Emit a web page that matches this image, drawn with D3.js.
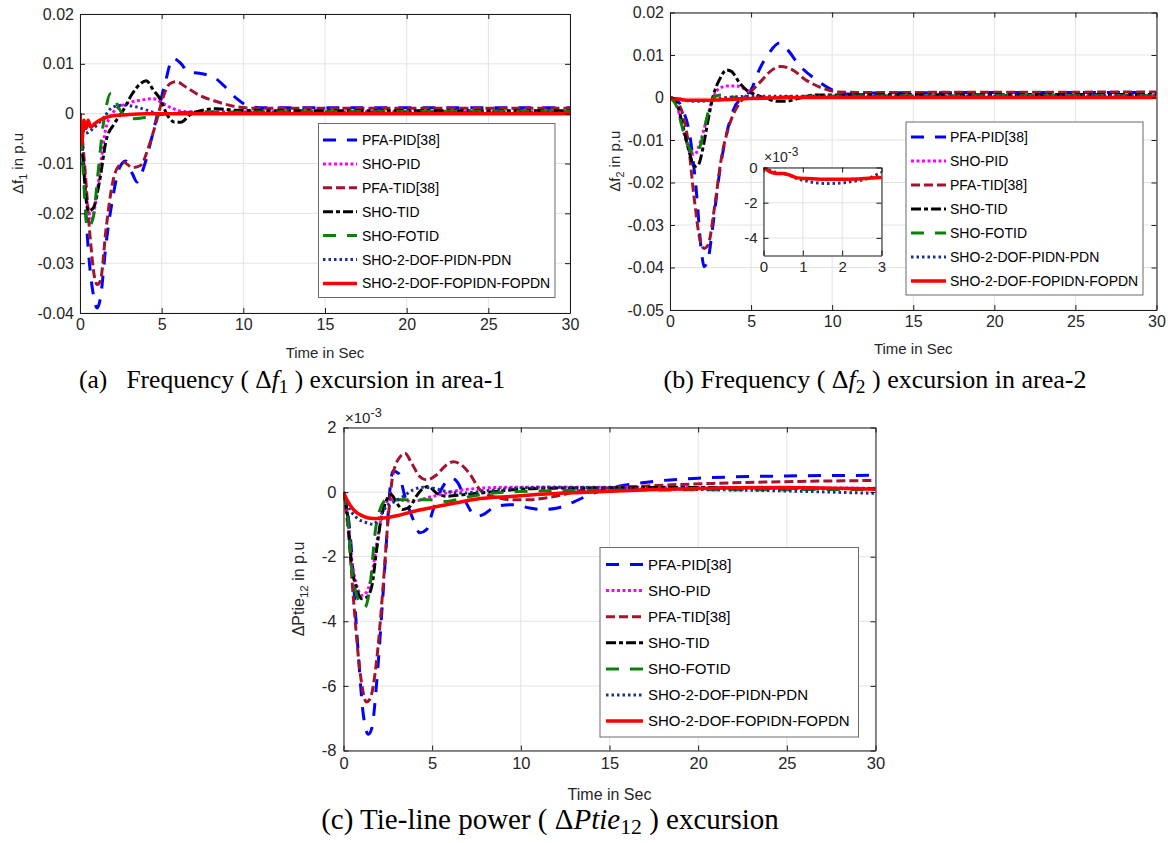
<!DOCTYPE html>
<html>
<head>
<meta charset="utf-8">
<script src="https://cdn.jsdelivr.net/npm/d3@7"></script>
<style>
  body { margin: 0; background: #fff; }
</style>
</head>
<body>
<script>
// ---- data ----
const seriesNames = ["PFA-PID[38]", "SHO-PID", "PFA-TID[38]", "SHO-TID", "SHO-FOTID", "SHO-2-DOF-PIDN-PDN", "SHO-2-DOF-FOPIDN-FOPDN"];

const xTicks = [0, 5, 10, 15, 20, 25, 30];
const f1Ticks = [-0.04, -0.03, -0.02, -0.01, 0, 0.01, 0.02];
const f2Ticks = [-0.05, -0.04, -0.03, -0.02, -0.01, 0, 0.01, 0.02];
const tieTicks = [-8, -6, -4, -2, 0, 2];
const insetXTicks = [0, 1, 2, 3];
const insetYTicks = [-4, -2, 0];

// (a) delta f1 [p.u]  -> [time, value]
const f1PfaPid = [[0,0],[0.2,-0.01],[0.5,-0.027],[0.8,-0.036],[1.05,-0.039],[1.25,-0.037],[1.6,-0.026],[2.0,-0.017],[2.4,-0.011],[2.8,-0.0095],[3.2,-0.012],[3.5,-0.0137],[3.9,-0.0108],[4.4,-0.0047],[4.8,0.0007],[5.2,0.006],[5.7,0.0111],[6.2,0.0100],[6.6,0.0084],[7.3,0.0081],[8.2,0.0073],[9.0,0.005],[9.6,0.003],[10.2,0.0017],[11,0.0012],[13,0.0012],[30,0.0012]];
const f1ShoPid = [[0,0],[0.2,-0.008],[0.45,-0.018],[0.72,-0.021],[0.95,-0.018],[1.2,-0.012],[1.6,-0.0027],[2.15,0.0007],[2.85,0.002],[3.7,0.0027],[4.5,0.003],[5.1,0.002],[5.7,0.001],[6.5,0.0004],[8,0.0004],[30,0.0004]];
const f1PfaTid = [[0,0],[0.3,-0.011],[0.6,-0.024],[0.9,-0.033],[1.05,-0.0343],[1.25,-0.0335],[1.6,-0.023],[2.0,-0.0138],[2.3,-0.0108],[2.7,-0.0098],[3.2,-0.0108],[3.7,-0.0104],[4.2,-0.0067],[4.7,-0.0013],[5.1,0.0034],[5.5,0.006],[5.9,0.0064],[6.5,0.0053],[7.3,0.0037],[8.4,0.0024],[9.4,0.0015],[10.6,0.0011],[30,0.0011]];
const f1ShoTid = [[0,0],[0.2,-0.01],[0.5,-0.0195],[0.8,-0.019],[1.2,-0.0135],[1.6,-0.0054],[2.1,-0.002],[2.65,0.0007],[3.2,0.004],[3.7,0.006],[4.05,0.0066],[4.5,0.0047],[4.95,0.0027],[5.3,0.0],[5.8,-0.0017],[6.2,-0.0017],[6.7,-0.0003],[7.5,0.0007],[8.4,0.001],[9.4,0.0007],[12,0.0006],[30,0.0006]];
const f1ShoFotid = [[0,0],[0.2,-0.012],[0.45,-0.0229],[0.8,-0.021],[1.1,-0.012],[1.4,-0.0027],[1.6,0.0013],[1.85,0.004],[2.05,0.0037],[2.35,0.0013],[2.7,-0.0003],[3.3,-0.001],[4.1,-0.0007],[4.9,-0.0002],[7,0.0003],[30,0.0005]];
const f1Pidn = [[0,0],[0.3,-0.004],[0.8,-0.003],[1.4,-0.001],[2.0,0.0013],[2.65,0.0017],[3.25,0.0015],[4.1,0.0007],[4.9,0.0],[7,0.0001],[30,0.0002]];
const f1Fopidn = [[0,0],[0.1,-0.006],[0.25,-0.0013],[0.37,-0.003],[0.5,-0.0013],[0.65,-0.0027],[0.9,-0.002],[1.2,-0.0013],[1.85,-0.0005],[2.85,-0.0002],[4,0],[30,0]];

// (b) delta f2 [p.u]
const f2PfaPid = [[0,0],[0.4,-0.0005],[0.8,-0.003],[1.2,-0.0084],[1.6,-0.021],[1.95,-0.0366],[2.1,-0.0398],[2.35,-0.038],[2.65,-0.030],[3.05,-0.0178],[3.5,-0.0084],[3.9,-0.003],[4.5,0.0002],[5.0,0.0018],[5.5,0.0065],[6.1,0.0104],[6.75,0.0128],[7.25,0.0112],[7.95,0.0077],[9.0,0.0042],[10,0.0018],[11,0.0008],[13,0.0011],[30,0.0012]];
const f2ShoPid = [[0,0],[0.4,-0.0017],[0.8,-0.0076],[1.2,-0.0123],[1.5,-0.0135],[1.85,-0.0107],[2.25,-0.0053],[2.65,-0.0002],[3.05,0.0022],[3.55,0.0027],[4.1,0.0027],[4.7,0.0018],[5.3,0.0006],[5.9,-0.0002],[7,0.0001],[30,0.0004]];
const f2PfaTid = [[0,0],[0.6,-0.002],[1.1,-0.010],[1.5,-0.024],[1.85,-0.0335],[2.1,-0.0355],[2.35,-0.0347],[2.75,-0.0257],[3.15,-0.0147],[3.7,-0.006],[4.3,-0.0013],[5.0,0.0014],[5.7,0.0042],[6.3,0.0065],[6.85,0.0073],[7.55,0.0065],[8.35,0.0042],[9.4,0.0022],[10.4,0.0013],[12,0.0012],[30,0.0013]];
const f2ShoTid = [[0,0],[0.4,-0.0013],[0.8,-0.0068],[1.2,-0.013],[1.5,-0.0162],[1.75,-0.0158],[2.05,-0.0115],[2.35,-0.0053],[2.65,0.0002],[3.05,0.0042],[3.5,0.0065],[3.8,0.0061],[4.3,0.0034],[4.7,0.0018],[5.3,0.0006],[5.9,-0.0002],[6.6,-0.0009],[7.15,-0.0009],[7.95,-0.0002],[9,0.0006],[30,0.0007]];
const f2ShoFotid = [[0,0],[0.4,-0.002],[0.8,-0.0076],[1.2,-0.012],[1.55,-0.0135],[1.85,-0.0115],[2.15,-0.0068],[2.45,-0.002],[2.75,0.0002],[3.25,0.0006],[4.5,-0.0003],[6,-0.0002],[8,0.0003],[30,0.0005]];
const f2Pidn = [[0,0],[0.26,-0.00025],[0.43,-0.00034],[0.6,-0.0004],[0.85,-0.00063],[1.2,-0.00082],[1.62,-0.00091],[1.97,-0.00088],[2.3,-0.00078],[2.65,-0.00063],[3.0,-0.00029],[3.5,0.0],[4.2,0.0002],[6,0.0003],[30,0.0004]];
const f2Fopidn = [[0,0],[0.17,-0.00025],[0.34,-0.00034],[0.5,-0.00034],[0.68,-0.00044],[0.85,-0.00059],[1.1,-0.00063],[1.54,-0.00067],[1.97,-0.00067],[2.4,-0.00065],[2.74,-0.00059],[3.0,-0.00057],[4,-0.0004],[6,-0.0001],[9,0],[30,0]];

// (c) delta Ptie12 [x 10^-3 p.u]
const tiePfaPid = [[0,0],[0.37,-1.26],[0.75,-4.34],[1.12,-6.9],[1.4,-7.5],[1.6,-7.3],[1.87,-5.9],[2.15,-3.8],[2.43,-1.47],[2.6,-0.03],[2.8,0.65],[3.1,0.58],[3.46,-0.13],[3.93,-0.85],[4.3,-1.26],[4.68,-1.16],[5.06,-0.54],[5.6,0.17],[6.1,0.43],[6.46,0.28],[6.93,-0.34],[7.5,-0.75],[7.87,-0.7],[8.6,-0.44],[9.55,-0.39],[10.5,-0.49],[11.2,-0.54],[12,-0.5],[13,-0.3],[14,-0.05],[15,0.12],[17,0.3],[20,0.43],[25,0.5],[30,0.52]];
const tieShoPid = [[0,0],[0.19,-0.54],[0.47,-2.1],[0.75,-2.9],[1.03,-3.2],[1.3,-3.1],[1.68,-2.3],[1.97,-1.26],[2.25,-0.54],[2.62,-0.24],[3.18,-0.24],[3.93,-0.29],[4.68,-0.18],[5.43,-0.08],[6.18,0.02],[7.7,0.12],[9.55,0.15],[15,0.15],[30,0.12]];
const tiePfaTid = [[0,0],[0.28,-1.26],[0.56,-3.3],[0.94,-5.6],[1.3,-6.5],[1.5,-6.4],[1.87,-5.2],[2.25,-2.8],[2.53,-0.75],[2.8,0.58],[3.2,1.1],[3.46,1.2],[3.84,0.9],[4.3,0.48],[4.68,0.38],[5.24,0.53],[5.8,0.84],[6.2,0.94],[6.65,0.84],[7.1,0.58],[7.7,0.07],[8.4,-0.13],[9.55,-0.24],[10.5,-0.24],[11.4,-0.18],[12.4,-0.08],[13.4,0.05],[17.1,0.19],[20.8,0.27],[24.6,0.32],[30,0.36]];
const tieShoTid = [[0,0],[0.19,-0.54],[0.47,-2.3],[0.75,-3.0],[1.03,-3.3],[1.3,-3.26],[1.6,-2.9],[1.87,-1.77],[2.15,-0.75],[2.43,-0.24],[2.7,-0.08],[3.0,-0.34],[3.37,-0.54],[3.75,-0.44],[4.1,-0.13],[4.5,0.12],[4.78,0.17],[5.24,-0.03],[5.8,-0.13],[6.74,-0.08],[7.7,-0.03],[9.55,0.07],[11.4,0.12],[19,0.14],[30,0.1]];
const tieShoFotid = [[0,0],[0.19,-0.54],[0.47,-2.4],[0.75,-3.2],[1.03,-3.5],[1.2,-3.57],[1.5,-2.9],[1.78,-1.26],[2.06,-0.54],[2.43,-0.24],[3,-0.24],[3.93,-0.24],[4.87,-0.24],[5.8,-0.29],[6.74,-0.18],[7.7,-0.08],[10,0.02],[15,0.06],[30,0.08]];
const tiePidn = [[0,0],[0.37,-0.54],[0.75,-0.8],[1.3,-0.95],[1.68,-1.0],[2.06,-0.75],[2.43,-0.44],[2.9,-0.29],[3.37,-0.13],[3.93,0.07],[4.5,0.15],[5.06,0.12],[5.8,0.02],[6.74,-0.03],[7.7,0.02],[9.55,0.12],[11.4,0.15],[19,0.09],[24.6,0.04],[30,-0.04]];
const tieFopidn = [[0,0],[0.19,-0.24],[0.56,-0.54],[1.12,-0.75],[1.68,-0.82],[2.25,-0.8],[3.0,-0.73],[3.93,-0.6],[4.87,-0.49],[5.8,-0.39],[6.74,-0.29],[7.7,-0.2],[9.55,-0.13],[11.4,-0.06],[13.4,-0.01],[17.1,0.07],[20.8,0.12],[24.6,0.14],[30,0.09]];

// ---- line styles (same order as seriesNames) ----
const colors = ["#0000ff", "#ff00ff", "#a2142f", "#000000", "#0a7f0a", "#1c2f8f", "#ff0000"];
const dashes = ["13,11", "3,2.5", "9,4", "10,3,4,3", "13,11", "2.5,3", null];
const widths = [3, 3, 3, 3, 3, 3, 3.5];

const sans = "'Liberation Sans', Arial, Helvetica, sans-serif";
const serif = "'Liberation Serif', 'Times New Roman', serif";
const ink = "#262626";

const svg = d3.select("body").append("svg")
    .attr("width", 1168)
    .attr("height", 843);

svg.append("rect").attr("width", 1168).attr("height", 843).attr("fill", "#fff");

function numFmt(d) {
    return d === 0 ? "0" : String(d);
}

// draws one MATLAB-like axes box with grid, curves and (optional) legend
function drawPanel(p) {
    const g = svg.append("g");
    const x = d3.scaleLinear().domain(p.xDomain).range([p.left, p.right]);
    const y = d3.scaleLinear().domain(p.yDomain).range([p.bottom, p.top]);

    g.append("rect")
        .attr("x", p.left).attr("y", p.top)
        .attr("width", p.right - p.left).attr("height", p.bottom - p.top)
        .attr("fill", "#fff");

    // grid
    g.append("g").selectAll("line").data(p.xTicks).join("line")
        .attr("x1", d => x(d)).attr("x2", d => x(d))
        .attr("y1", p.top).attr("y2", p.bottom)
        .attr("stroke", "#e3e3e3").attr("stroke-width", 1);
    g.append("g").selectAll("line").data(p.yTicks).join("line")
        .attr("x1", p.left).attr("x2", p.right)
        .attr("y1", d => y(d)).attr("y2", d => y(d))
        .attr("stroke", "#e3e3e3").attr("stroke-width", 1);

    // curves
    const clipId = "clip-" + p.id;
    g.append("clipPath").attr("id", clipId)
        .append("rect")
        .attr("x", p.left).attr("y", p.top)
        .attr("width", p.right - p.left).attr("height", p.bottom - p.top);

    const line = d3.line()
        .x(d => x(d[0]))
        .y(d => y(d[1] * p.scale))
        .curve(d3.curveMonotoneX);

    g.append("g").attr("clip-path", `url(#${clipId})`)
        .selectAll("path").data(p.series).join("path")
        .attr("d", d => line(d.values))
        .attr("fill", "none")
        .attr("stroke", d => colors[d.idx])
        .attr("stroke-width", d => widths[d.idx])
        .attr("stroke-dasharray", d => dashes[d.idx])
        .attr("stroke-linejoin", "round");

    // axes (ticks point inwards, box on)
    const bottomAxis = g.append("g")
        .attr("transform", `translate(0,${p.bottom})`)
        .call(d3.axisBottom(x).tickValues(p.xTicks).tickSize(-5).tickSizeOuter(0).tickPadding(p.padX).tickFormat(numFmt));
    const topAxis = g.append("g")
        .attr("transform", `translate(0,${p.top})`)
        .call(d3.axisTop(x).tickValues(p.xTicks).tickSize(-5).tickSizeOuter(0).tickFormat(() => ""));
    const leftAxis = g.append("g")
        .attr("transform", `translate(${p.left},0)`)
        .call(d3.axisLeft(y).tickValues(p.yTicks).tickSize(-5).tickSizeOuter(0).tickPadding(p.padY).tickFormat(numFmt));
    const rightAxis = g.append("g")
        .attr("transform", `translate(${p.right},0)`)
        .call(d3.axisRight(y).tickValues(p.yTicks).tickSize(-5).tickSizeOuter(0).tickFormat(() => ""));

    [bottomAxis, topAxis, leftAxis, rightAxis].forEach(a => {
        a.attr("color", ink).attr("font-family", sans).attr("font-size", p.tickSize);
        a.selectAll("line, path").attr("stroke", "#1a1a1a");
    });

    // x label
    if (p.xLabel) {
        g.append("text")
            .attr("x", (p.left + p.right) / 2).attr("y", p.xLabelY)
            .attr("text-anchor", "middle")
            .attr("font-family", sans).attr("font-size", p.labelSize).attr("fill", ink)
            .text(p.xLabel);
    }

    // y label with subscript
    if (p.yLabel) {
        const ls = p.labelSize;
        const t = g.append("text")
            .attr("transform", `translate(${p.yLabelX},${(p.top + p.bottom) / 2}) rotate(-90)`)
            .attr("text-anchor", "middle")
            .attr("font-family", sans).attr("font-size", ls).attr("fill", ink);
        t.append("tspan").text(p.yLabel[0]);
        t.append("tspan").attr("dy", 4).attr("font-size", ls * 0.72).text(p.yLabel[1]);
        t.append("tspan").attr("dy", -4).text(p.yLabel[2]);
    }

    // exponent note
    if (p.expo) {
        const e = g.append("text")
            .attr("x", p.expo[0]).attr("y", p.expo[1])
            .attr("font-family", sans).attr("font-size", p.expo[2]).attr("fill", ink);
        e.append("tspan").text("×10");
        e.append("tspan").attr("dy", -6).attr("font-size", p.expo[2] * 0.85).text("-3");
    }

    // legend
    if (p.legend) {
        const L = p.legend;
        g.append("rect")
            .attr("x", L.x0).attr("y", L.y0)
            .attr("width", L.x1 - L.x0).attr("height", L.y1 - L.y0)
            .attr("fill", "#fff").attr("stroke", "#6b6b6b").attr("stroke-width", 1);
        const rows = g.append("g").selectAll("g").data(seriesNames).join("g")
            .attr("transform", (d, i) => `translate(0,${L.row0 + i * L.step})`);
        rows.append("line")
            .attr("x1", L.s0).attr("x2", L.s1)
            .attr("stroke", (d, i) => colors[i])
            .attr("stroke-width", (d, i) => widths[i])
            .attr("stroke-dasharray", (d, i) => dashes[i]);
        rows.append("text")
            .attr("x", L.tx).attr("y", 5)
            .attr("font-family", sans).attr("font-size", L.size).attr("fill", "#000")
            .text(d => d);
    }
}

const f1Series = [f1PfaPid, f1ShoPid, f1PfaTid, f1ShoTid, f1ShoFotid, f1Pidn, f1Fopidn].map((v, i) => ({idx: i, values: v}));
const f2Series = [f2PfaPid, f2ShoPid, f2PfaTid, f2ShoTid, f2ShoFotid, f2Pidn, f2Fopidn].map((v, i) => ({idx: i, values: v}));
const tieSeries = [tiePfaPid, tieShoPid, tiePfaTid, tieShoTid, tieShoFotid, tiePidn, tieFopidn].map((v, i) => ({idx: i, values: v}));

// (a)
drawPanel({
    id: "a", left: 80, right: 570, top: 14, bottom: 313,
    xDomain: [0, 30], yDomain: [-0.04, 0.02], xTicks: xTicks, yTicks: f1Ticks,
    scale: 1, series: f1Series, tickSize: 16, labelSize: 15, padX: 6, padY: 6,
    xLabel: "Time in Sec", xLabelY: 358,
    yLabel: ["Δf", "1", " in p.u"], yLabelX: 23,
    legend: {x0: 318.5, y0: 123.5, x1: 555, y1: 297.5, row0: 140, step: 23.9, s0: 323, s1: 357, tx: 362, size: 14}
});

// (b)
drawPanel({
    id: "b", left: 670, right: 1156.5, top: 12.5, bottom: 310,
    xDomain: [0, 30], yDomain: [-0.05, 0.02], xTicks: xTicks, yTicks: f2Ticks,
    scale: 1, series: f2Series, tickSize: 16, labelSize: 15, padX: 6, padY: 6,
    xLabel: "Time in Sec", xLabelY: 354,
    yLabel: ["Δf", "2", " in p.u"], yLabelX: 620,
    legend: {x0: 906, y0: 122, x1: 1143, y1: 295, row0: 137, step: 24, s0: 911, s1: 946, tx: 950, size: 14}
});

// (b) inset, zoom of the first 3 s
drawPanel({
    id: "inset", left: 763.5, right: 881.5, top: 167.5, bottom: 255.5,
    xDomain: [0, 3], yDomain: [-5, 0], xTicks: insetXTicks, yTicks: insetYTicks,
    scale: 1000, series: [f2Series[5], f2Series[6]], tickSize: 15, labelSize: 15, padX: 6, padY: 6,
    expo: [764, 162, 14]
});

// (c)
drawPanel({
    id: "c", left: 343.5, right: 875.5, top: 427.5, bottom: 750.5,
    xDomain: [0, 30], yDomain: [-8, 2], xTicks: xTicks, yTicks: tieTicks,
    scale: 1, series: tieSeries, tickSize: 16.5, labelSize: 16, padX: 7, padY: 7,
    xLabel: "Time in Sec", xLabelY: 800,
    yLabel: ["ΔPtie", "12", " in p.u"], yLabelX: 304,
    expo: [345, 423, 15],
    legend: {x0: 600, y0: 547.5, x1: 858.5, y1: 737, row0: 564.5, step: 26.1, s0: 606, s1: 643, tx: 648, size: 15}
});

// captions below each panel
function caption(cx, cy, size, pre, sym, sub, post) {
    const t = svg.append("text")
        .attr("x", cx).attr("y", cy)
        .attr("text-anchor", "middle")
        .attr("font-family", serif).attr("font-size", size).attr("fill", "#000")
        .style("white-space", "pre");
    t.append("tspan").text(pre);
    t.append("tspan").text(sym[0]);
    t.append("tspan").attr("font-style", "italic").text(sym.slice(1));
    t.append("tspan").attr("dy", 5).attr("font-size", size * 0.75).text(sub);
    t.append("tspan").attr("dy", -5).text(post);
}

caption(292, 388, 25.5, "(a)   Frequency ( ", "Δf", "1", " ) excursion in area-1");
caption(875, 388, 26, "(b) Frequency ( ", "Δf", "2", " ) excursion in area-2");
caption(550, 829, 29, "(c) Tie-line power ( ", "ΔPtie", "12", " ) excursion");
</script>
</body>
</html>
